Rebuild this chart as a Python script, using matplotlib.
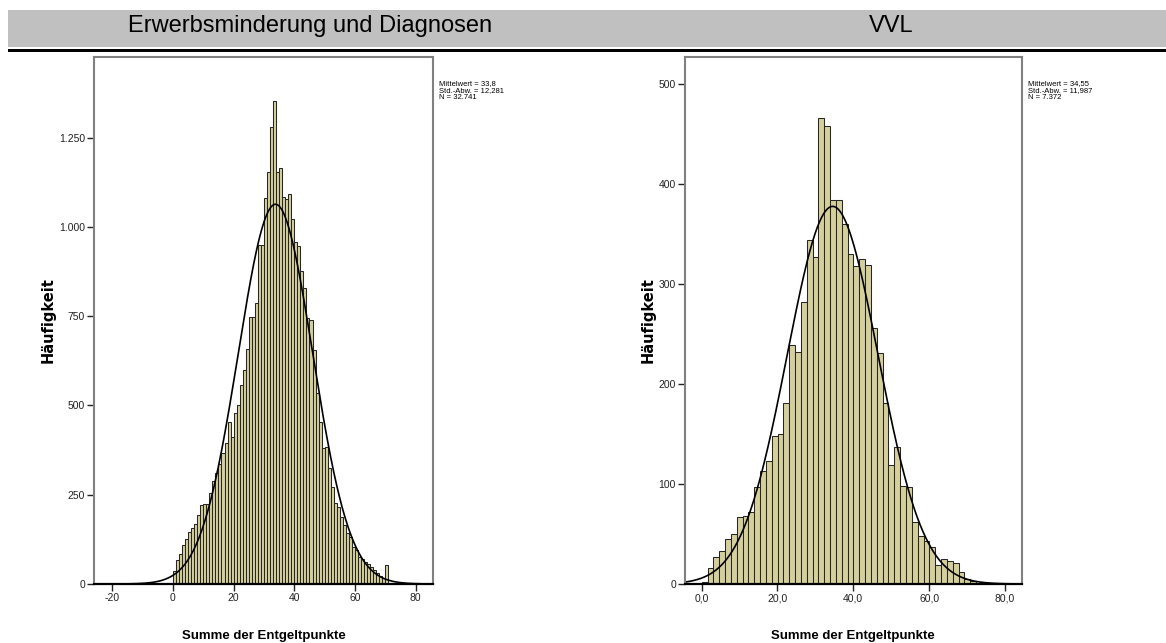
import numpy as np
import matplotlib.pyplot as plt
from matplotlib.patches import Rectangle

W, H = 1166, 643

plt.rcParams['font.family'] = ['Liberation Sans', 'DejaVu Sans']

# Erwerbsminderung und Diagnosen: Klassen der Breite 1 ab 0
em_counts = [37, 67, 84, 108, 126, 146, 158, 168, 192, 222,
             225, 225, 256, 288, 310, 335, 368, 396, 454, 412,
             478, 502, 557, 600, 657, 748, 748, 787, 949, 949,
             1081, 1154, 1280, 1353, 1155, 1166, 1084, 1077, 1093, 1021,
             958, 946, 878, 828, 744, 739, 655, 534, 454, 380,
             384, 326, 272, 228, 216, 187, 165, 142, 131, 104,
             95, 75, 69, 63, 55, 49, 38, 32, 22, 18, 53]
em_start, em_width = 0.0, 1.0
em_mean, em_sd, em_n = 33.8, 12.281, 32741
em_xticks = [-20, 0, 20, 40, 60, 80]
em_xlabels = ['-20', '0', '20', '40', '60', '80']
em_yticks = [0, 250, 500, 750, 1000, 1250]
em_ylabels = ['0', '250', '500', '750', '1.000', '1.250']
em_stats = 'Mittelwert = 33,8\nStd.-Abw. = 12,281\nN = 32.741'

# VVL: Klassenbreite 1,54 ab 0
vvl_counts = [2, 16, 27, 33, 45, 50, 67, 68, 72, 97,
              113, 123, 148, 150, 181, 239, 232, 282, 344, 327,
              466, 458, 384, 384, 360, 330, 318, 325, 319, 256,
              231, 181, 119, 137, 98, 97, 62, 48, 43, 37,
              19, 25, 23, 21, 12, 5, 3, 1]
vvl_start, vvl_width = 0.0, 1.54
vvl_mean, vvl_sd, vvl_n = 34.55, 11.987, 7372
vvl_xticks = [0, 20, 40, 60, 80]
vvl_xlabels = ['0,0', '20,0', '40,0', '60,0', '80,0']
vvl_yticks = [0, 100, 200, 300, 400, 500]
vvl_ylabels = ['0', '100', '200', '300', '400', '500']
vvl_stats = 'Mittelwert = 34,55\nStd.-Abw. = 11,987\nN = 7.372'

FILL = '#d5d09b'


def fx(px):
    return px / W


def fy(py):
    return 1 - py / H


def histogram(box, counts, start, width, mean, sd, n, xlim, ylim,
              xticks, xlabels, yticks, ylabels):
    x0, x1, y0, y1 = box
    ax = fig.add_axes([fx(x0), fy(y1), (x1 - x0) / W, (y1 - y0) / H])
    edges = start + width * np.arange(len(counts))
    ax.bar(edges, counts, width=width, align='edge', color=FILL,
           edgecolor='#262626', linewidth=0.75)
    xs = np.linspace(xlim[0], xlim[1], 500)
    peak = n * width / (sd * np.sqrt(2 * np.pi))
    ax.plot(xs, peak * np.exp(-0.5 * ((xs - mean) / sd) ** 2),
            color='black', lw=1.2)
    ax.set_xlim(xlim)
    ax.set_ylim(ylim)
    ax.set_xticks(xticks, xlabels)
    ax.set_yticks(yticks, ylabels)
    ax.tick_params(length=5, width=1, pad=1.5, labelsize=7.5, colors='#222222')
    for side in ['left', 'top', 'right']:
        ax.spines[side].set_color('#808080')
        ax.spines[side].set_linewidth(1.5)
    ax.spines['bottom'].set_color('black')
    ax.spines['bottom'].set_linewidth(1.6)
    return ax


fig = plt.figure(figsize=(W / 100, H / 100), dpi=100)

# Kopfzeile der Tabelle
fig.add_artist(Rectangle((fx(8), fy(47)), 1 - fx(8), 37 / H,
                         transform=fig.transFigure, color='#c0c0c0', lw=0))
fig.add_artist(Rectangle((fx(8), fy(51.5)), 1 - fx(8), 2.5 / H,
                         transform=fig.transFigure, color='black', lw=0))
fig.text(fx(310), fy(32), 'Erwerbsminderung und Diagnosen', ha='center',
         va='baseline', fontsize=17)
fig.text(fx(891.5), fy(32), 'VVL', ha='center', va='baseline', fontsize=17)

histogram((94, 433, 57, 584), em_counts, em_start, em_width,
          em_mean, em_sd, em_n, (-26.0, 85.7), (0, 1476),
          em_xticks, em_xlabels, em_yticks, em_ylabels)
histogram((685, 1022, 57, 584), vvl_counts, vvl_start, vvl_width,
          vvl_mean, vvl_sd, vvl_n, (-4.4, 84.5), (0, 527.3),
          vvl_xticks, vvl_xlabels, vvl_yticks, vvl_ylabels)

for x_stat, x_axis, x_ylab, stats in [(439, 264, 48, em_stats),
                                      (1028, 853, 648, vvl_stats)]:
    fig.text(fx(x_stat), fy(80), stats, ha='left', va='top',
             fontsize=5.5, linespacing=1.0)
    fig.text(fx(x_axis), fy(639), 'Summe der Entgeltpunkte', ha='center',
             va='baseline', fontsize=9.5, fontweight='bold')
    fig.text(fx(x_ylab), fy(320), 'Häufigkeit', rotation=90, ha='center',
             va='center', family='DejaVu Sans', fontweight='bold',
             fontsize=10.5)

fig.savefig('out.png', dpi=100)
